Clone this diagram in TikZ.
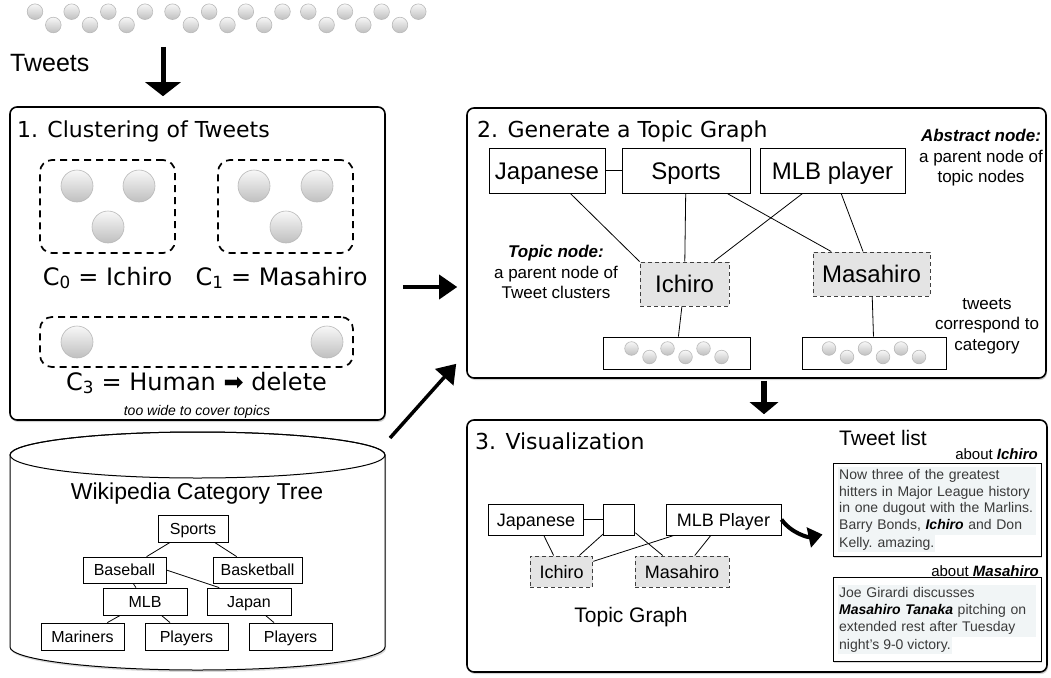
\documentclass[tikz,border=0pt]{standalone}
\usepackage{fontspec}
\setmainfont{Liberation Sans}
\newfontfamily\lucida{DejaVu Sans}
\usepackage{tikz}
\usetikzlibrary{arrows.meta,shadows}
\definecolor{topicfill}{HTML}{E4E4E4}
\definecolor{hilite}{HTML}{F1F5F6}
\definecolor{tweettxt}{HTML}{3A3A3A}
\newcommand\fsz[2]{\fontsize{#1pt}{#2pt}\selectfont}
\tikzset{
  panel/.style={draw, line width=1.6pt, rounded corners=7pt, fill=white, inner sep=0pt,
    drop shadow={opacity=0.35, shadow xshift=1pt, shadow yshift=-2pt}},
  ptitle/.style={font=\lucida\fsz{22}{26}, anchor=base west, inner sep=0pt},
  clbox/.style={draw, line width=1.7pt, dash pattern=on 7pt off 5pt, rounded corners=12pt, inner sep=0pt},
  cllab/.style={font=\lucida\fsz{24}{28}, anchor=base, inner sep=0pt},
  ball/.style={draw=gray!55, line width=0.6pt, top color=gray!6, bottom color=gray!50},
  tbox/.style={draw, line width=0.8pt, fill=white, font=\fsz{16}{19}, inner sep=0pt,
    text height=11.5pt, text depth=0pt, minimum height=27pt},
  gbox/.style={draw, line width=1pt, fill=white, font=\fsz{24}{28}, inner sep=0pt,
    text height=17pt, text depth=0pt, minimum height=45pt},
  topic/.style={gbox, draw=black!75, fill=topicfill, dash pattern=on 4pt off 3pt},
  vbox/.style={gbox, font=\fsz{18}{21}, text height=13pt, minimum height=31pt},
  vtopic/.style={topic, font=\fsz{18}{21}, text height=13pt, minimum height=31pt},
  clust/.style={draw, line width=1pt, fill=white, inner sep=0pt, minimum height=32pt},
  link/.style={line width=0.8pt},
  note/.style={font=\fsz{17}{20.5}, align=center, inner sep=0pt},
  lab/.style={inner sep=0pt},
  tweetbox/.style={draw, line width=1pt, fill=white, inner sep=0pt,
    drop shadow={opacity=0.3, shadow xshift=1pt, shadow yshift=-2pt}},
  ttext/.style={fill=hilite, text=tweettxt, font=\fsz{14}{16.8}, align=left, inner xsep=1pt, inner ysep=2pt, anchor=north west},
  fatarrow/.style={line width=5pt, -{Triangle[width=35pt,length=14pt]}},
  midarrow/.style={line width=6pt, -{Triangle[width=28pt,length=12pt]}},
  sidearrow/.style={line width=3.5pt, -{Triangle[width=24pt,length=18pt]}},
  curvearrow/.style={line width=4pt, -{Triangle[width=20pt,length=14pt]}},
}

\begin{document}
\begin{tikzpicture}[x=1pt, y=-1pt]
  \useasboundingbox (0,0) rectangle (1051,677);

  % incoming tweets
  \foreach \g in {35,172.5,308.3}
    \foreach \i in {0,...,6}{
      \pgfmathsetmacro{\yy}{isodd(\i) ? 25 : 11.7}
      \path[ball] (\g+18.33*\i,\yy) circle[radius=7.8];
    }
  \node[lab, font=\fsz{25}{30}, anchor=base west] (tweets) at (10,71) {Tweets};
  \coordinate (down) at (163,47);

  % panels
  \node[panel, minimum width=375pt, minimum height=313pt] (p1) at (197.5,263.5) {};
  \node[panel, minimum width=579pt, minimum height=270pt] (p2) at (756.5,243) {};
  \node[panel, minimum width=580pt, minimum height=252pt] (p3) at (757,546) {};
  \node[ptitle] (t1) at (17,137) {1. Clustering of Tweets};
  \node[ptitle] (t2) at (477,137) {2. Generate a Topic Graph};
  \node[ptitle] (t3) at (475,449) {3. Visualization};

  \draw[fatarrow, shorten >=10pt] (down) -- (down |- p1.north);

  % 1. clusters
  \node[clbox, minimum width=135pt, minimum height=93pt] (c0) at (107.5,206.5) {};
  \node[clbox, minimum width=135pt, minimum height=93pt] (c1) at (285.5,206.5) {};
  \node[clbox, minimum width=313pt, minimum height=50pt] (c3) at (196.5,342) {};
  \foreach \x/\y in {77/186,139/186,108/227,254/186,317/186,286/227,77/342,327/342}
    \path[ball] (\x,\y) circle[radius=16];
  \node[cllab] (c0lab) at (107.5,285) {C\textsubscript{0} = Ichiro};
  \node[cllab] (c1lab) at (281.5,285) {C\textsubscript{1} = Masahiro};
  \node[cllab] (c3lab) at (196.5,390) {C\textsubscript{3} = Human ➡ delete};
  \node[lab, font=\itshape\fsz{14}{16}] (toowide) at (197,412) {too wide to cover topics};

  % wikipedia
  \path[fill=white, draw, line width=1pt, drop shadow={opacity=0.3, shadow xshift=1pt, shadow yshift=-2pt}]
    (10,455) arc[start angle=180, end angle=360, x radius=187.5, y radius=23]
    -- (385,647) arc[start angle=0, end angle=180, x radius=187.5, y radius=23] -- cycle;
  \draw[line width=1pt] (197.5,455) ellipse[x radius=187.5, y radius=23];
  \node[lab, font=\fsz{23}{27}] (wiki) at (197,494) {Wikipedia Category Tree};
  \node[tbox, minimum width=70pt] (wsp) at (193,528.5) {Sports};
  \node[tbox, minimum width=83pt, minimum height=26pt] (wbb) at (124.5,570) {Baseball};
  \node[tbox, minimum width=89pt, minimum height=26pt] (wbk) at (257.5,570) {Basketball};
  \node[tbox, minimum width=84pt] (wmlb) at (145,601.5) {MLB};
  \node[tbox, minimum width=84pt] (wjp) at (249,601.5) {Japan};
  \node[tbox, minimum width=83pt] (wmar) at (82.5,636.5) {Mariners};
  \node[tbox, minimum width=83pt] (wpl1) at (186.5,636.5) {Players};
  \node[tbox, minimum width=83pt] (wpl2) at (290.5,636.5) {Players};
  \draw[link] (wsp) -- (wbb);
  \draw[link] (wsp) -- (wbk);
  \draw[link] (wbb) -- (wmlb);
  \draw[link] (wbb.east) -- (wjp.155);
  \draw[link] (wmlb) -- (wmar);
  \draw[link] (wmlb) -- (wpl1);
  \draw[link] (wjp) -- (wpl2);

  \coordinate (mid12) at (430,287);
  \draw[sidearrow, shorten <=17pt, shorten >=9pt] (mid12 -| p1.east) -- (mid12 -| p2.west);
  \coordinate (cylr) at (390,438);
  \draw[sidearrow] (cylr) -- ([xshift=-10pt, yshift=15pt]p2.south west);

  % 2. topic graph
  \node[gbox, minimum width=116pt] (jpn) at (547,170.5) {Japanese};
  \node[gbox, minimum width=128pt] (spt) at (686,170.5) {Sports};
  \node[gbox, minimum width=145pt] (mlb) at (832.5,170.5) {MLB player};
  \node[topic, minimum width=89pt, minimum height=44pt] (ich) at (684.5,284) {Ichiro};
  \node[topic, minimum width=117pt, minimum height=44pt] (mas) at (871.5,274) {Masahiro};
  \node[clust, minimum width=147pt] (cl1) at (676.5,353) {};
  \node[clust, minimum width=144pt] (cl2) at (874,353) {};
  \foreach \k in {0,...,5}{
    \pgfmathsetmacro{\yy}{isodd(\k) ? 357 : 348.5}
    \path[ball] (631.5+18*\k,\yy) circle[radius=6.8];
    \path[ball] (829+18*\k,\yy) circle[radius=6.8];
  }
  \draw[link] (jpn) -- (spt);
  \draw[link] (jpn) -- (ich.north west);
  \draw[link] (spt) -- (ich);
  \draw[link] (mlb) -- (ich);
  \draw[link] (spt) -- (mas);
  \draw[link] (mlb) -- (mas);
  \draw[link] (ich) -- (cl1);
  \draw[link] (mas) -- (cl2);
  \node[note] (absn) at (981,158) {\textbf{\textit{Abstract node:}}\\a parent node of\\topic nodes};
  \node[note] (topn) at (556,272) {\textbf{\textit{Topic node:}}\\a parent node of\\Tweet clusters};
  \node[note] (corr) at (987,326) {tweets\\correspond to\\category};

  \coordinate (mid23) at (764,400);
  \draw[midarrow, shorten <=2pt, shorten >=5pt] (mid23 |- p2.south) -- (mid23 |- p3.north);

  % 3. visualization
  \node[vbox, minimum width=95pt] (jp3) at (536,519.5) {Japanese};
  \node[vbox, minimum width=31pt] (em3) at (619.3,519.5) {};
  \node[vbox, minimum width=115pt] (ml3) at (723.5,519.5) {MLB Player};
  \node[vtopic, minimum width=62.5pt] (ic3) at (561.5,571.5) {Ichiro};
  \node[vtopic, minimum width=94pt] (ms3) at (682,571.5) {Masahiro};
  \draw[link] (jp3) -- (em3);
  \draw[link] (jp3) -- (ic3);
  \draw[link] (em3) -- (ic3);
  \draw[link] (ml3) -- (ic3);
  \draw[link] (em3) -- (ms3);
  \draw[link] (ml3) -- (ms3);
  \node[lab, font=\fsz{21}{25}] (tgraph) at (631,617) {Topic Graph};

  \node[lab, font=\fsz{21}{25}, anchor=base west] (tlist) at (839,445) {Tweet list};
  \node[lab, font=\fsz{15}{18}, anchor=base east] (ab1) at (1038,459) {about \textbf{\textit{Ichiro}}};
  \node[tweetbox, minimum width=208pt, minimum height=93pt] (tw1) at (937,509.5) {};
  \node[ttext, text width=196pt] (tw1a) at (838,467)
    {Now three of the greatest\\hitters in Major League history\\in one dugout with the Marlins.\\Barry Bonds, \textcolor{black}{\textbf{\textit{Ichiro}}} and Don};
  \node[ttext] (tw1b) at (tw1a.south west) {Kelly. amazing.};
  \node[lab, font=\fsz{15}{18}, anchor=base east] (ab2) at (1039,576) {about \textbf{\textit{Masahiro}}};
  \node[tweetbox, minimum width=208pt, minimum height=84pt] (tw2) at (937,619) {};
  \node[ttext, text width=196pt, font=\fsz{14}{17.3}] (tw2a) at (838,585)
    {Joe Girardi discusses\\\textcolor{black}{\textbf{\textit{Masahiro Tanaka}}} pitching on\\extended rest after Tuesday};
  \node[ttext] (tw2b) at (tw2a.south west) {night's 9-0 victory.};

  \draw[curvearrow] (ml3.east) .. controls +(10,14) and +(-14,3) .. ([xshift=-10pt, yshift=-25pt]tw1.west);
\end{tikzpicture}
\end{document}
